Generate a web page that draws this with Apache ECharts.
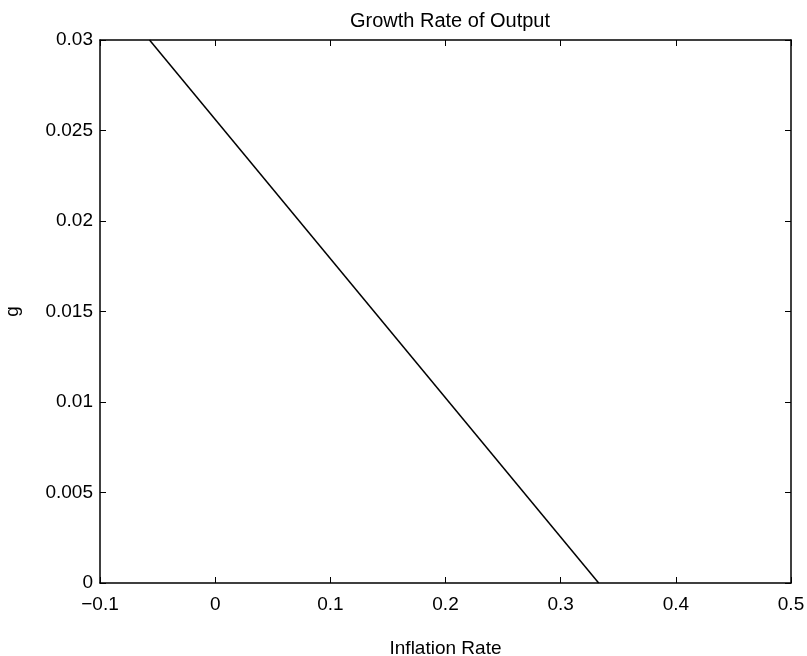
<!DOCTYPE html>
<html>
<head>
<meta charset="utf-8">
<script src="https://cdn.jsdelivr.net/npm/echarts@6/dist/echarts.min.js"></script>
<style>html,body{margin:0;padding:0;background:#fff;}#c{width:807px;height:656px;}</style>
</head>
<body>
<div id="c"></div>
<script>
var inflation = [-0.057, 0.333];
var growth = [0.03, 0.0];
var xTicks = [-0.1, 0, 0.1, 0.2, 0.3, 0.4, 0.5];
var yTicks = [0, 0.005, 0.01, 0.015, 0.02, 0.025, 0.03];

var FONT = 'Liberation Sans';
var FS = 19;
var chart = echarts.init(document.getElementById('c'));
var axisLine = {show: true, onZero: false, lineStyle: {color: '#000', width: 1.5}};
var tick = {show: true, inside: true, length: 6, lineStyle: {color: '#000', width: 1}};
function fmtX(v){ var s = (Math.round(v*10)/10).toString(); return s.replace('-', '\u2212'); }
function fmtY(v){ return (Math.round(v*1000)/1000).toString(); }
chart.setOption({
  animation: false,
  backgroundColor: '#fff',
  title: {text: 'Growth Rate of Output', left: 445, textAlign: 'center', top: 6,
    textStyle: {fontFamily: FONT, fontSize: 20, fontWeight: 'normal', color: '#000'}},
  grid: {left: 100, right: 16, top: 40, bottom: 73, containLabel: false, outerBoundsMode: 'none'},
  xAxis: [{
    type: 'value', min: -0.1, max: 0.5, interval: 0.1, position: 'bottom',
    name: 'Inflation Rate', nameLocation: 'middle', nameGap: 56,
    nameTextStyle: {fontFamily: FONT, fontSize: FS, color: '#000'},
    axisLine: axisLine, axisTick: tick, splitLine: {show: false},
    axisLabel: {fontFamily: FONT, fontSize: FS, color: '#000', margin: 12, formatter: fmtX}
  }, {
    type: 'value', min: -0.1, max: 0.5, interval: 0.1, position: 'top',
    axisLine: axisLine, axisTick: tick, splitLine: {show: false}, axisLabel: {show: false}
  }],
  yAxis: [{
    type: 'value', min: 0, max: 0.03, interval: 0.005, position: 'left',
    name: 'g', nameLocation: 'middle', nameGap: 78, nameRotate: 90,
    nameTextStyle: {fontFamily: FONT, fontSize: FS, color: '#000'},
    axisLine: axisLine, axisTick: tick, splitLine: {show: false},
    axisLabel: {fontFamily: FONT, fontSize: FS, color: '#000', margin: 7, formatter: fmtY}
  }, {
    type: 'value', min: 0, max: 0.03, interval: 0.005, position: 'right',
    axisLine: axisLine, axisTick: tick, splitLine: {show: false}, axisLabel: {show: false}
  }],
  series: [{
    type: 'line', xAxisIndex: 0, yAxisIndex: 0, showSymbol: false, symbol: 'none',
    lineStyle: {color: '#000', width: 1.5},
    data: inflation.map(function(x, i){ return [x, growth[i]]; })
  }]
});
</script>
</body>
</html>
